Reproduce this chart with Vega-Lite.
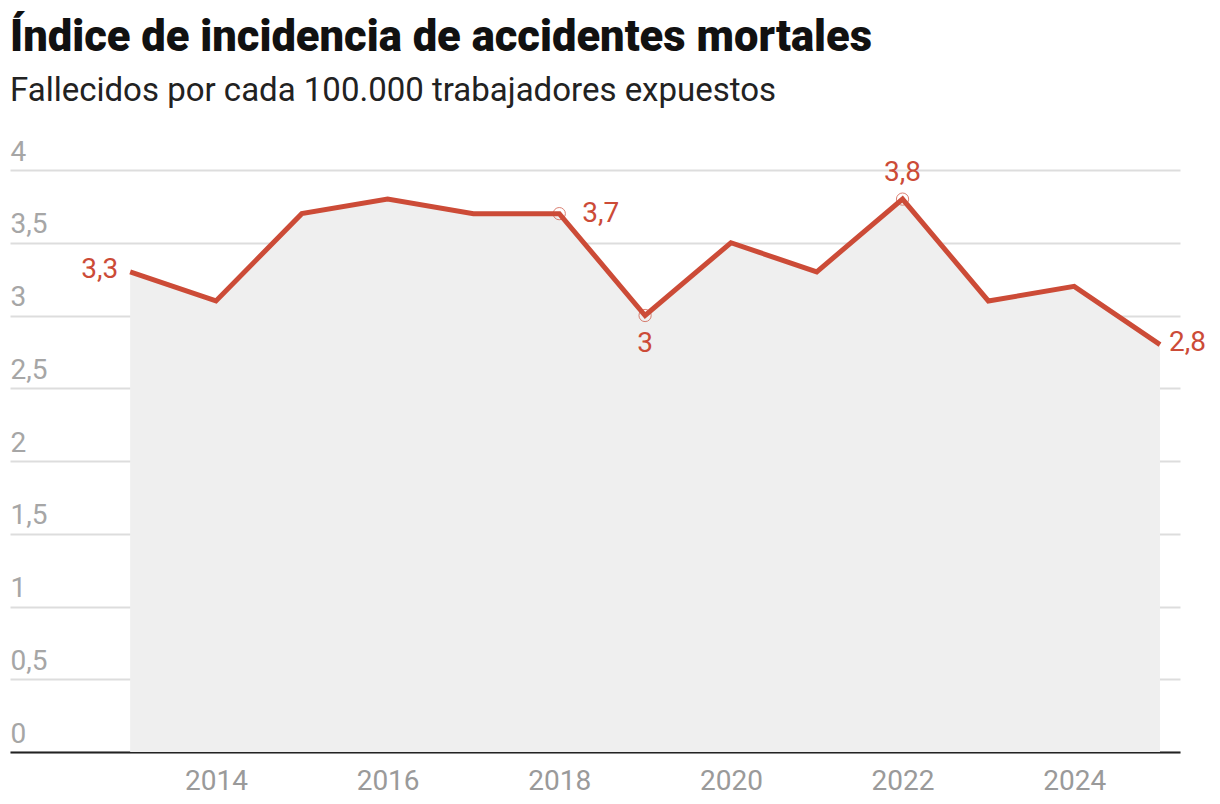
{
  "$schema": "https://vega.github.io/schema/vega-lite/v6.json",
  "width": 1170,
  "height": 582,
  "autosize": {"type": "none"},
  "padding": {"left": 10, "top": 170, "right": 40, "bottom": 52},
  "background": "white",
  "config": {
    "view": {"stroke": null},
    "font": "Roboto"
  },
  "title": {
    "text": "Índice de incidencia de accidentes mortales",
    "subtitle": "Fallecidos por cada 100.000 trabajadores expuestos",
    "anchor": "start",
    "frame": "group",
    "font": "Roboto",
    "fontSize": 43.5,
    "fontWeight": 900,
    "color": "#111111",
    "subtitleFont": "Roboto",
    "subtitleFontSize": 33,
    "subtitleColor": "#222222",
    "subtitlePadding": 15,
    "offset": 29
  },
  "data": {
    "values": [
      {"year": 2013, "value": 3.3, "label": "3,3"},
      {"year": 2014, "value": 3.1, "label": "3,1"},
      {"year": 2015, "value": 3.7, "label": "3,7"},
      {"year": 2016, "value": 3.8, "label": "3,8"},
      {"year": 2017, "value": 3.7, "label": "3,7"},
      {"year": 2018, "value": 3.7, "label": "3,7"},
      {"year": 2019, "value": 3.0, "label": "3"},
      {"year": 2020, "value": 3.5, "label": "3,5"},
      {"year": 2021, "value": 3.3, "label": "3,3"},
      {"year": 2022, "value": 3.8, "label": "3,8"},
      {"year": 2023, "value": 3.1, "label": "3,1"},
      {"year": 2024, "value": 3.2, "label": "3,2"},
      {"year": 2025, "value": 2.8, "label": "2,8"}
    ]
  },
  "encoding": {
    "x": {
      "field": "year",
      "type": "quantitative",
      "scale": {"domain": [2011.6, 2025.233], "nice": false, "zero": false},
      "axis": {
        "title": null,
        "values": [2014, 2016, 2018, 2020, 2022, 2024],
        "format": "d",
        "grid": false,
        "ticks": false,
        "domain": true,
        "domainColor": "#222222",
        "domainWidth": 2,
        "labelFont": "Roboto",
        "labelFontSize": 28,
        "labelColor": "#9a9a9a",
        "labelPadding": 15
      }
    },
    "y": {
      "field": "value",
      "type": "quantitative",
      "scale": {"domain": [0, 4], "nice": false},
      "axis": {
        "title": null,
        "values": [0, 0.5, 1, 1.5, 2, 2.5, 3, 3.5, 4],
        "labelExpr": "replace(format(datum.value, '~g'), '.', ',')",
        "grid": true,
        "gridColor": "#dddddd",
        "gridWidth": 2,
        "ticks": false,
        "domain": false,
        "labelAlign": "left",
        "labelBaseline": "alphabetic",
        "labelPadding": 0,
        "labelOffset": -10,
        "labelFont": "Roboto",
        "labelFontSize": 28,
        "labelColor": "#a6a6a6"
      }
    }
  },
  "layer": [
    {"mark": {"type": "area", "color": "#efefef"}},
    {"mark": {"type": "line", "color": "#cc4b37", "strokeWidth": 5}},
    {
      "transform": [{"filter": "datum.year == 2018 || datum.year == 2019 || datum.year == 2022"}],
      "mark": {"type": "point", "shape": "circle", "filled": false, "size": 150, "color": "#cc4b37", "strokeWidth": 1}
    },
    {
      "transform": [{"filter": "datum.year == 2013"}],
      "mark": {"type": "text", "align": "right", "baseline": "middle", "dx": -12, "dy": -2, "fontSize": 28, "color": "#cc4b37"},
      "encoding": {"text": {"field": "label"}}
    },
    {
      "transform": [{"filter": "datum.year == 2018"}],
      "mark": {"type": "text", "align": "left", "baseline": "middle", "dx": 23, "fontSize": 28, "color": "#cc4b37"},
      "encoding": {"text": {"field": "label"}}
    },
    {
      "transform": [{"filter": "datum.year == 2025"}],
      "mark": {"type": "text", "align": "left", "baseline": "middle", "dx": 9, "dy": -2, "fontSize": 28, "color": "#cc4b37"},
      "encoding": {"text": {"field": "label"}}
    },
    {
      "transform": [{"filter": "datum.year == 2019"}],
      "mark": {"type": "text", "align": "center", "baseline": "middle", "dy": 28, "fontSize": 28, "color": "#cc4b37"},
      "encoding": {"text": {"field": "label"}}
    },
    {
      "transform": [{"filter": "datum.year == 2022"}],
      "mark": {"type": "text", "align": "center", "baseline": "middle", "dy": -26, "fontSize": 28, "color": "#cc4b37"},
      "encoding": {"text": {"field": "label"}}
    }
  ]
}
